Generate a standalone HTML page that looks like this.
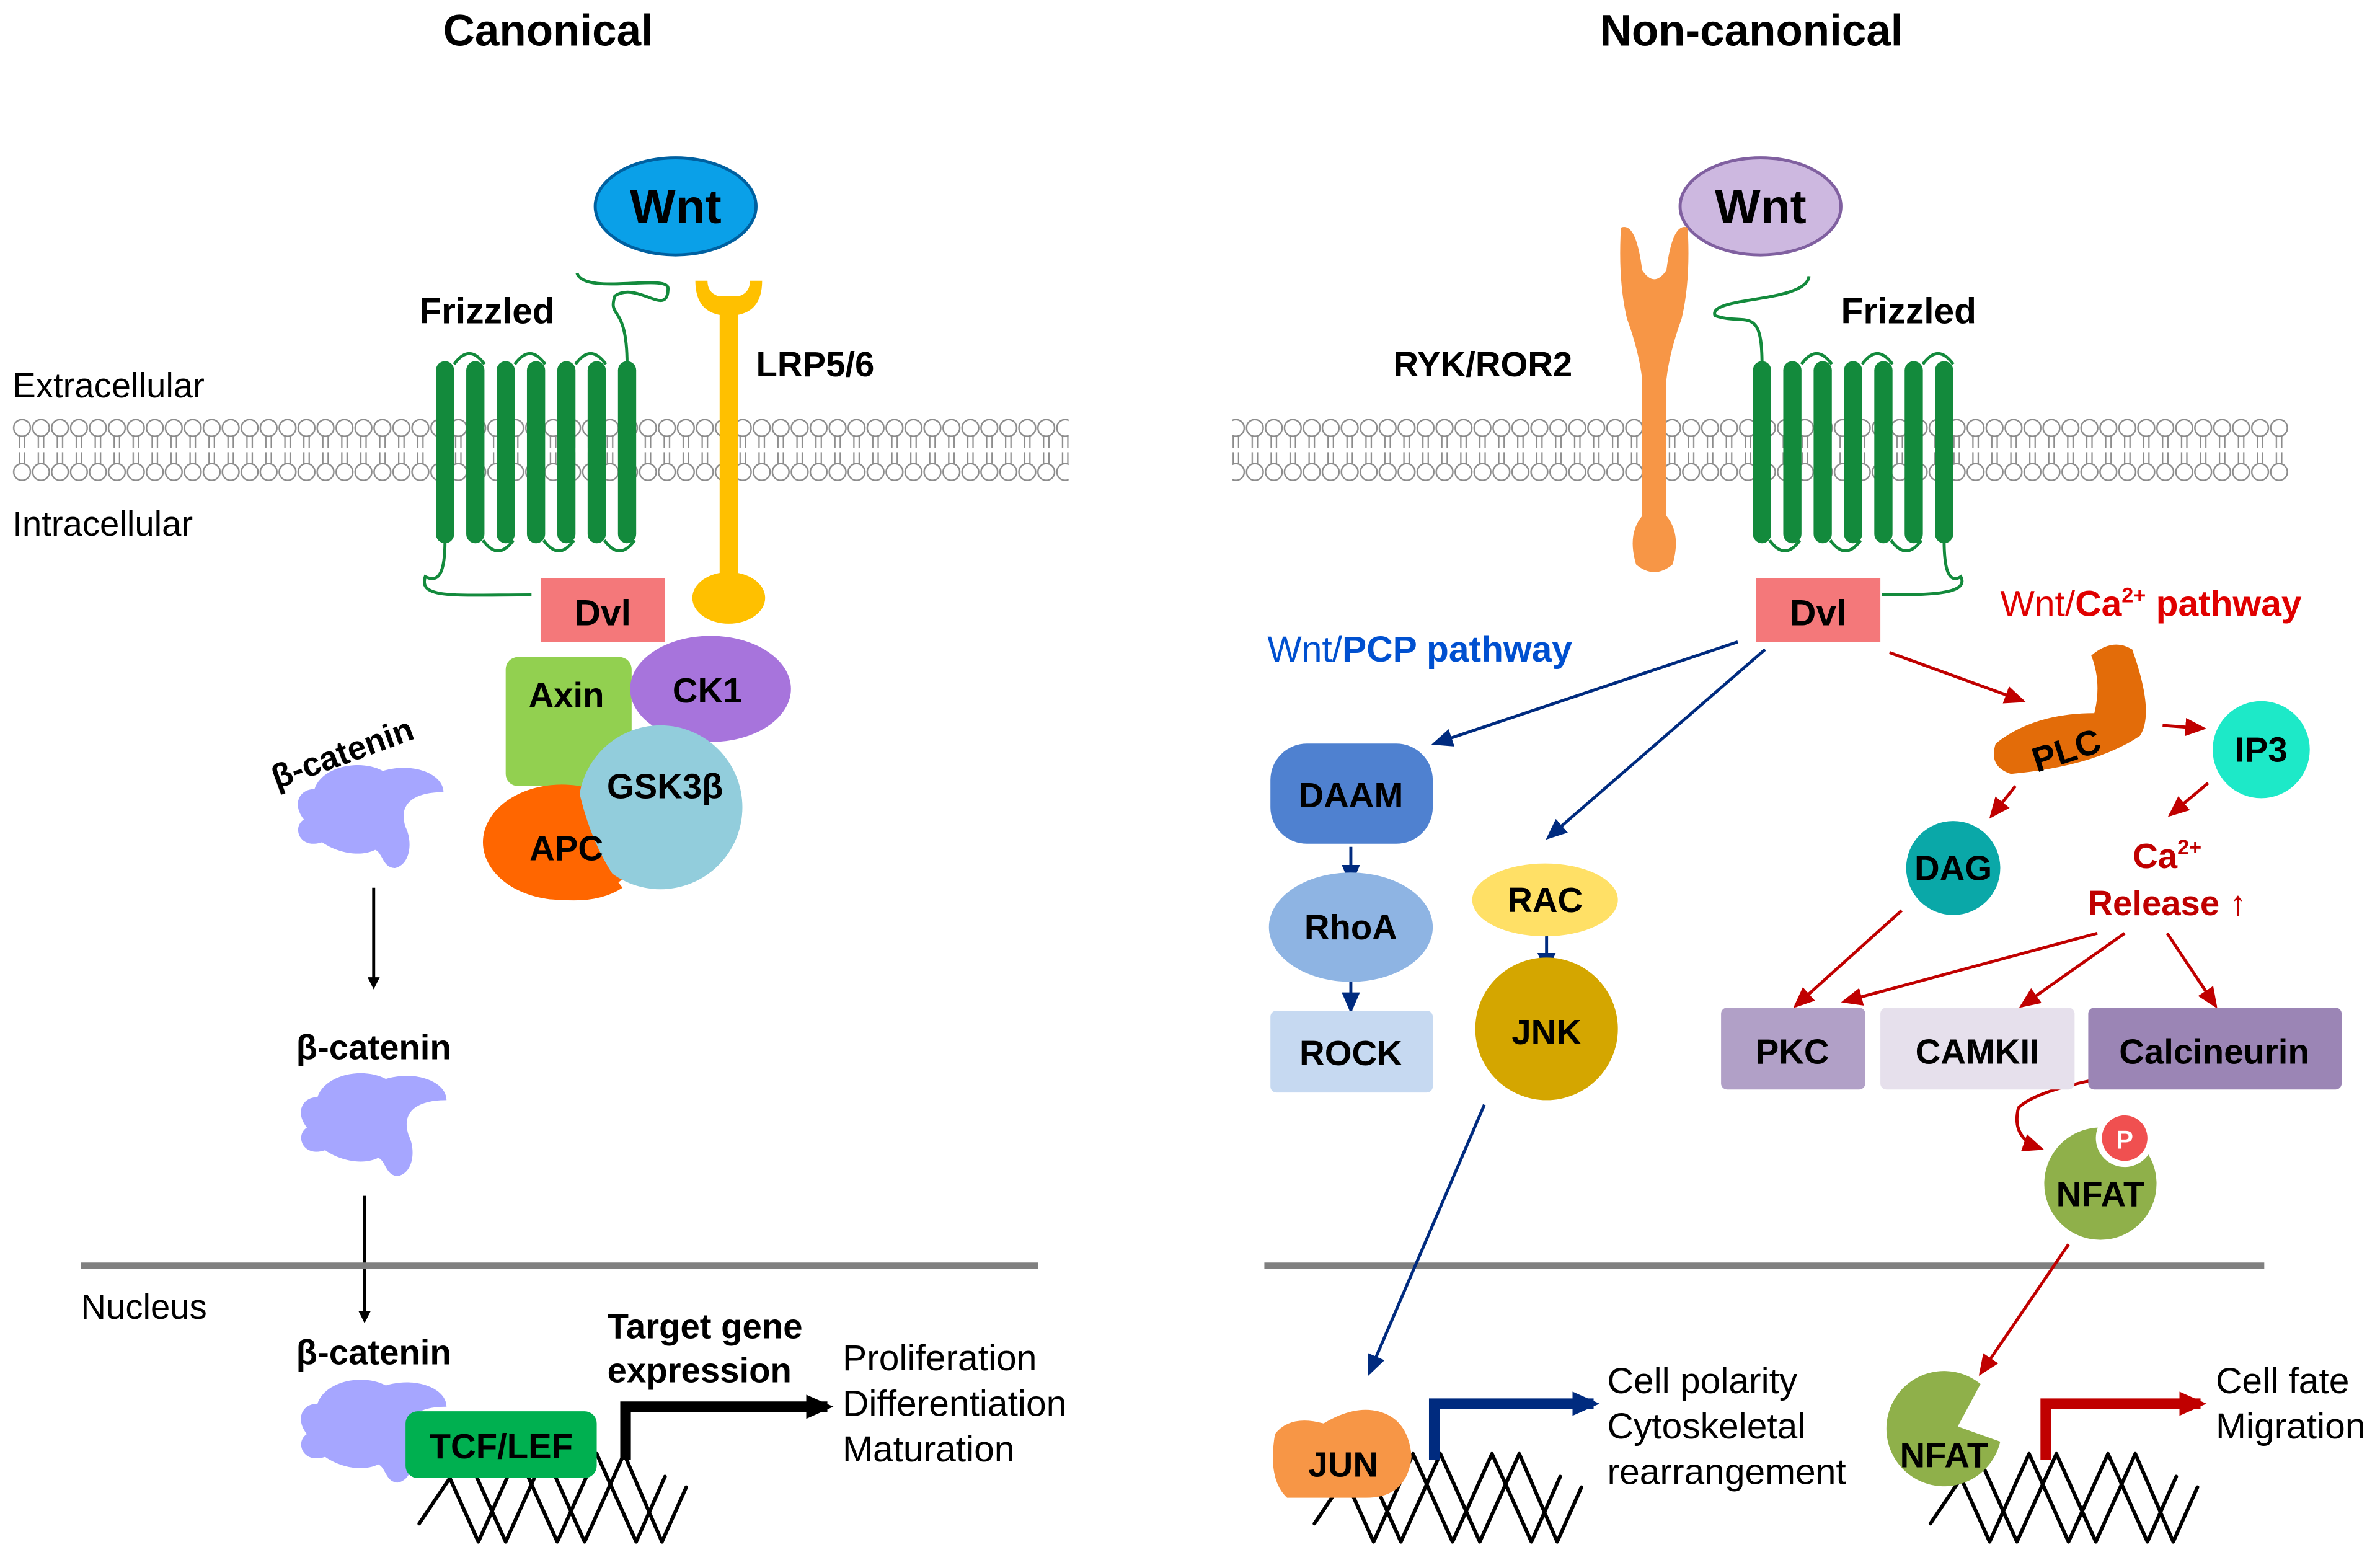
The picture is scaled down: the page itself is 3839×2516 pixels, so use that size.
<!DOCTYPE html>
<html><head><meta charset="utf-8"><style>
html,body{margin:0;padding:0;background:#fff}
svg{display:block}
text{font-family:"Liberation Sans",Arial,sans-serif}
.b{font-weight:bold}
</style></head><body>
<svg width="3839" height="2516" viewBox="0 0 1568 1028" xmlns="http://www.w3.org/2000/svg">
<defs>
<pattern id="mem" x="8" y="0" width="12.5" height="1028" patternUnits="userSpaceOnUse">
<circle cx="6.25" cy="282" r="5.5" fill="#fff" stroke="#8c8c8c" stroke-width="1"/>
<circle cx="6.25" cy="311" r="5.5" fill="#fff" stroke="#8c8c8c" stroke-width="1"/>
<path d="M4.5 287 v8 M8 287 v8 M4.5 298 v8 M8 298 v8" stroke="#8c8c8c" stroke-width="0.9"/>
</pattern>
<marker id="ak" markerWidth="8" markerHeight="8" refX="6" refY="4" orient="auto" markerUnits="userSpaceOnUse"><path d="M0 0L8 4L0 8z" fill="#000"/></marker>
<marker id="ab" markerWidth="14" markerHeight="12" refX="12" refY="6" orient="auto" markerUnits="userSpaceOnUse"><path d="M0 0L14 6L0 12z" fill="#002b7f"/></marker>
<marker id="ar" markerWidth="14" markerHeight="12" refX="12" refY="6" orient="auto" markerUnits="userSpaceOnUse"><path d="M0 0L14 6L0 12z" fill="#c00000"/></marker>
<marker id="akb" markerWidth="18" markerHeight="16" refX="14" refY="8" orient="auto" markerUnits="userSpaceOnUse"><path d="M0 0L18 8L0 16z" fill="#000"/></marker>
<marker id="abb" markerWidth="18" markerHeight="16" refX="14" refY="8" orient="auto" markerUnits="userSpaceOnUse"><path d="M0 0L18 8L0 16z" fill="#002b7f"/></marker>
<marker id="arb" markerWidth="18" markerHeight="16" refX="14" refY="8" orient="auto" markerUnits="userSpaceOnUse"><path d="M0 0L18 8L0 16z" fill="#c00000"/></marker>
<g id="bcat"><path d="M15 20 C20 5 45 0 60 8 C80 2 100 10 100 22 C80 22 70 30 75 45 C80 55 78 70 68 72 C60 72 60 62 55 60 C45 65 30 62 20 55 C5 60 0 45 8 40 C0 30 5 20 15 20Z" fill="#a6a6ff"/></g>
<g id="dna" fill="none" stroke="#000" stroke-width="2.4" stroke-linejoin="round" stroke-linecap="round">
<path d="M13 0 L39 58 L65 0 L91 58 L117 0 L143 58 L162 15"/>
<path d="M0 46 L31 0 L57 58 L83 0 L109 58 L135 0 L160 58 L176 22"/>
</g>
</defs>

<text x="361" y="30" font-size="29" class="b" text-anchor="middle">Canonical</text>
<text x="1154" y="30" font-size="29" class="b" text-anchor="middle">Non-canonical</text>

<rect x="8" y="270" width="696" height="50" fill="url(#mem)"/>
<rect x="812" y="270" width="696" height="50" fill="url(#mem)"/>
<text x="8" y="262" font-size="23">Extracellular</text>
<text x="8" y="353" font-size="23">Intracellular</text>

<g fill="#138a3c">
<rect x="287" y="238" width="12" height="120" rx="6"/><rect x="307" y="238" width="12" height="120" rx="6"/>
<rect x="327" y="238" width="12" height="120" rx="6"/><rect x="347" y="238" width="12" height="120" rx="6"/>
<rect x="367" y="238" width="12" height="120" rx="6"/><rect x="387" y="238" width="12" height="120" rx="6"/>
<rect x="407" y="238" width="12" height="120" rx="6"/>
</g>
<path d="M299 240 Q309 226 319 240 M339 240 Q349 226 359 240 M379 240 Q389 226 399 240 M413 240 C413 200 400 210 405 195 C420 185 440 210 440 190 C440 180 385 195 380 180 M293 356 C293 375 290 385 280 380 C275 395 300 392 350 392 M318 356 Q328 370 338 356 M358 356 Q368 370 378 356 M398 356 Q408 370 418 356" fill="none" stroke="#138a3c" stroke-width="2"/>
<text x="276" y="213" font-size="24" class="b">Frizzled</text>
<ellipse cx="445" cy="136" rx="53" ry="32" fill="#0aa0e8" stroke="#0060a0" stroke-width="2"/>
<text x="445" y="147" font-size="32" class="b" text-anchor="middle">Wnt</text>
<path d="M458 185 Q458 208 480 208 Q502 208 502 185 L494 185 Q494 196 480 196 Q466 196 466 185Z" fill="#ffc000"/>
<rect x="474" y="195" width="12" height="190" fill="#ffc000"/>
<ellipse cx="480" cy="394" rx="24" ry="17" fill="#ffc000"/>
<text x="498" y="248" font-size="23" class="b">LRP5/6</text>
<rect x="356" y="381" width="82" height="42" fill="#f4787a"/>
<text x="397" y="412" font-size="24" class="b" text-anchor="middle">Dvl</text>
<rect x="333" y="433" width="83" height="85" rx="8" fill="#92d050"/>
<text x="373" y="466" font-size="23" class="b" text-anchor="middle">Axin</text>
<ellipse cx="468" cy="454" rx="53" ry="35" fill="#a774dc"/>
<text x="466" y="463" font-size="23" class="b" text-anchor="middle">CK1</text>
<ellipse cx="370" cy="555" rx="52" ry="38" fill="#ff6600"/>
<circle cx="435" cy="532" r="54" fill="#92cddc"/>
<path d="M370 517 Q330 520 320 545 Q318 585 370 593 Q395 595 410 585 Q390 560 381 520Z" fill="#ff6600"/>
<text x="438" y="526" font-size="23" class="b" text-anchor="middle">GSK3β</text>
<text x="373" y="567" font-size="23" class="b" text-anchor="middle">APC</text>

<use href="#bcat" x="192" y="500"/>
<text x="182" y="520" font-size="22" class="b" transform="rotate(-20 182 520)">β-catenin</text>
<line x1="246" y1="585" x2="246" y2="650" stroke="#000" stroke-width="2" marker-end="url(#ak)"/>
<text x="246" y="698" font-size="23" class="b" text-anchor="middle">β-catenin</text>
<use href="#bcat" x="194" y="703"/>
<line x1="240" y1="788" x2="240" y2="870" stroke="#000" stroke-width="2" marker-end="url(#ak)"/>
<line x1="53" y1="834" x2="684" y2="834" stroke="#808080" stroke-width="4"/>
<line x1="833" y1="834" x2="1492" y2="834" stroke="#808080" stroke-width="4"/>
<text x="53" y="869" font-size="23">Nucleus</text>
<text x="246" y="899" font-size="23" class="b" text-anchor="middle">β-catenin</text>
<use href="#bcat" x="194" y="905"/>
<use href="#dna" x="276" y="958"/>
<rect x="267" y="930" width="126" height="44" rx="8" fill="#00b050"/>
<text x="330" y="961" font-size="23" class="b" text-anchor="middle">TCF/LEF</text>
<text x="400" y="882" font-size="23" class="b">Target gene</text>
<text x="400" y="911" font-size="23" class="b">expression</text>
<path d="M412 962 V927 H545" fill="none" stroke="#000" stroke-width="7" marker-end="url(#akb)"/>
<text x="555" y="903" font-size="24">Proliferation</text>
<text x="555" y="933" font-size="24">Differentiation</text>
<text x="555" y="963" font-size="24">Maturation</text>

<ellipse cx="1160" cy="136" rx="53" ry="32" fill="#cdb8e0" stroke="#8060a0" stroke-width="2"/>
<text x="1160" y="147" font-size="32" class="b" text-anchor="middle">Wnt</text>
<path d="M1068 150 Q1066 185 1072 210 Q1080 232 1082 250 L1082 340 Q1072 352 1078 372 Q1090 382 1102 372 Q1108 352 1098 340 L1098 250 Q1100 232 1108 210 Q1114 185 1112 150 Q1102 146 1098 178 Q1090 190 1082 178 Q1078 146 1068 150Z" fill="#f79646"/>
<text x="918" y="248" font-size="23" class="b">RYK/ROR2</text>
<g fill="#138a3c">
<rect x="1155" y="238" width="12" height="120" rx="6"/><rect x="1175" y="238" width="12" height="120" rx="6"/>
<rect x="1195" y="238" width="12" height="120" rx="6"/><rect x="1215" y="238" width="12" height="120" rx="6"/>
<rect x="1235" y="238" width="12" height="120" rx="6"/><rect x="1255" y="238" width="12" height="120" rx="6"/>
<rect x="1275" y="238" width="12" height="120" rx="6"/>
</g>
<path d="M1161 240 C1161 200 1150 215 1130 208 C1125 195 1190 200 1192 182 M1187 240 Q1197 226 1207 240 M1227 240 Q1237 226 1247 240 M1267 240 Q1277 226 1287 240 M1281 356 C1281 375 1284 385 1292 380 C1298 392 1270 392 1240 392 M1166 356 Q1176 370 1186 356 M1206 356 Q1216 370 1226 356 M1246 356 Q1256 370 1266 356" fill="none" stroke="#138a3c" stroke-width="2"/>
<text x="1213" y="213" font-size="24" class="b">Frizzled</text>
<rect x="1157" y="381" width="82" height="42" fill="#f4787a"/>
<text x="1198" y="412" font-size="24" class="b" text-anchor="middle">Dvl</text>
<text x="835" y="436" font-size="24" fill="#0050d0">Wnt/<tspan class="b">PCP pathway</tspan></text>
<text x="1318" y="406" font-size="24" fill="#e00000">Wnt/<tspan class="b">Ca<tspan font-size="14" dy="-9">2+</tspan><tspan dy="9"> pathway</tspan></tspan></text>

<g stroke="#002b7f" stroke-width="2" fill="none">
<line x1="1145" y1="423" x2="945" y2="490" marker-end="url(#ab)"/>
<line x1="1163" y1="428" x2="1020" y2="552" marker-end="url(#ab)"/>
<line x1="890" y1="558" x2="890" y2="582" marker-end="url(#ab)"/>
<line x1="890" y1="645" x2="890" y2="666" marker-end="url(#ab)"/>
<line x1="1019" y1="615" x2="1019" y2="640" marker-end="url(#ab)"/>
<line x1="978" y1="728" x2="902" y2="905" marker-end="url(#ab)"/>
</g>
<rect x="837" y="490" width="107" height="66" rx="24" fill="#4f81d0"/>
<text x="890" y="532" font-size="23" class="b" text-anchor="middle">DAAM</text>
<ellipse cx="890" cy="611" rx="54" ry="36" fill="#8eb4e3"/>
<text x="890" y="619" font-size="23" class="b" text-anchor="middle">RhoA</text>
<rect x="837" y="666" width="107" height="54" rx="4" fill="#c6d9f1"/>
<text x="890" y="702" font-size="23" class="b" text-anchor="middle">ROCK</text>
<ellipse cx="1018" cy="593" rx="48" ry="24" fill="#ffe066"/>
<text x="1018" y="601" font-size="23" class="b" text-anchor="middle">RAC</text>
<circle cx="1019" cy="678" r="47" fill="#d4a600"/>
<text x="1019" y="688" font-size="23" class="b" text-anchor="middle">JNK</text>

<g stroke="#c00000" stroke-width="2" fill="none">
<line x1="1245" y1="430" x2="1333" y2="462" marker-end="url(#ar)"/>
<line x1="1425" y1="478" x2="1452" y2="480" marker-end="url(#ar)"/>
<line x1="1328" y1="518" x2="1312" y2="538" marker-end="url(#ar)"/>
<line x1="1455" y1="516" x2="1430" y2="537" marker-end="url(#ar)"/>
<line x1="1253" y1="600" x2="1183" y2="663" marker-end="url(#ar)"/>
<line x1="1382" y1="615" x2="1215" y2="660" marker-end="url(#ar)"/>
<line x1="1400" y1="615" x2="1332" y2="663" marker-end="url(#ar)"/>
<line x1="1428" y1="615" x2="1460" y2="663" marker-end="url(#ar)"/>
<path d="M1378 712 Q1340 720 1330 730 Q1325 750 1345 757" marker-end="url(#ar)"/>
<line x1="1363" y1="820" x2="1305" y2="905" marker-end="url(#ar)"/>
</g>
<path d="M1315 490 Q1340 470 1380 470 Q1385 450 1378 432 Q1392 420 1405 428 Q1420 470 1410 485 Q1380 505 1325 510 Q1310 505 1315 490Z" fill="#e36c09"/>
<text x="1364" y="502" font-size="23" class="b" text-anchor="middle" transform="rotate(-18 1364 502)">PLC</text>
<circle cx="1490" cy="494" r="32" fill="#1de9c8"/>
<text x="1490" y="502" font-size="23" class="b" text-anchor="middle">IP3</text>
<circle cx="1287" cy="572" r="31" fill="#0aa8a8"/>
<text x="1287" y="580" font-size="23" class="b" text-anchor="middle">DAG</text>
<text x="1428" y="572" font-size="23" class="b" fill="#c00000" text-anchor="middle">Ca<tspan font-size="14" dy="-9">2+</tspan></text>
<text x="1428" y="603" font-size="23" class="b" fill="#c00000" text-anchor="middle">Release ↑</text>
<rect x="1134" y="664" width="95" height="54" rx="4" fill="#b1a0c7"/>
<text x="1181" y="701" font-size="23" class="b" text-anchor="middle">PKC</text>
<rect x="1239" y="664" width="128" height="54" rx="4" fill="#e6e0ec"/>
<text x="1303" y="701" font-size="23" class="b" text-anchor="middle">CAMKII</text>
<rect x="1376" y="664" width="167" height="54" rx="4" fill="#9b85b5"/>
<text x="1459" y="701" font-size="23" class="b" text-anchor="middle">Calcineurin</text>
<circle cx="1384" cy="780" r="37" fill="#8fb04a"/>
<circle cx="1400" cy="750" r="19" fill="#fff"/>
<circle cx="1400" cy="750" r="15" fill="#f05050"/>
<text x="1400" y="757" font-size="17" fill="#fff" class="b" text-anchor="middle">P</text>
<text x="1384" y="795" font-size="23" class="b" text-anchor="middle">NFAT</text>

<use href="#dna" x="866" y="958"/>
<path d="M840 945 Q850 932 872 938 Q892 926 908 930 Q928 935 930 960 Q927 987 900 987 L848 987 Q835 975 840 945Z" fill="#f79646"/>
<text x="885" y="973" font-size="23" class="b" text-anchor="middle">JUN</text>
<path d="M945 962 V925 H1050" fill="none" stroke="#002b7f" stroke-width="7" marker-end="url(#abb)"/>
<text x="1059" y="918" font-size="24">Cell polarity</text>
<text x="1059" y="948" font-size="24">Cytoskeletal</text>
<text x="1059" y="978" font-size="24">rearrangement</text>

<use href="#dna" x="1272" y="958"/>
<path d="M1305 912 A38 38 0 1 0 1318 950 L1290 940Z" fill="#8fb04a"/>
<text x="1281" y="967" font-size="23" class="b" text-anchor="middle">NFAT</text>
<path d="M1348 962 V925 H1450" fill="none" stroke="#c00000" stroke-width="7" marker-end="url(#arb)"/>
<text x="1460" y="918" font-size="24">Cell fate</text>
<text x="1460" y="948" font-size="24">Migration</text>
</svg>
</body></html>
